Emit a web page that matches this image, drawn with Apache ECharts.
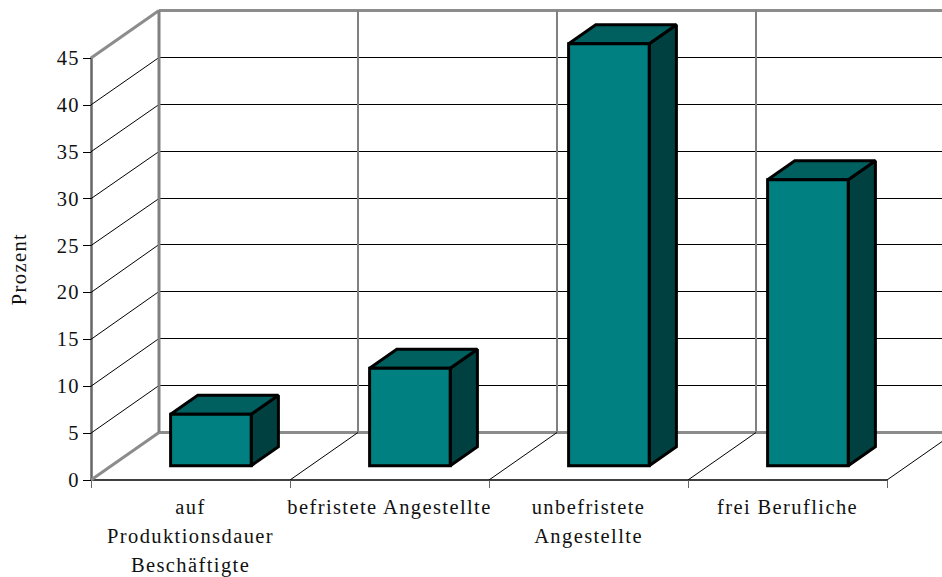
<!DOCTYPE html>
<html>
<head>
<meta charset="utf-8">
<style>
html,body{margin:0;padding:0;background:#fff}
#chart{width:942px;height:577px}
#chart text{letter-spacing:1.4px}
</style>
<script src="https://cdn.jsdelivr.net/npm/echarts@6/dist/echarts.min.js"></script>
</head>
<body>
<div id="chart"></div>
<script>
// Employment groups and their share in percent
const categories = ['auf\nProduktionsdauer\nBeschäftigte', 'befristete Angestellte', 'unbefristete\nAngestellte', 'frei Berufliche'];
const percentValues = [5.5, 10.4, 45, 30.5];
const wallTicks = [0, 5, 10, 15, 20, 25, 30, 35, 40, 45];
const floorEdges = [0, 1, 2, 3, 4];

// Oblique projection of the chart box
const DEPTH_X = 68, DEPTH_Y = -47.5;
const BAR_NEAR = 0.3, BAR_DEPTH = 0.4, BAR_WIDTH = 0.405;
const SERIF = '"Liberation Serif", "Times New Roman", serif';

const line = (pts, stroke, lineWidth) => ({
  type: 'polyline', shape: { points: pts },
  style: { stroke, lineWidth, fill: null }, silent: true
});

// Side wall and back wall, one rung per axis tick
function renderWall(params, api) {
  const v = api.value(0);
  const p = api.coord([0, v]);
  const band = api.size([1, 0])[0];
  const x0 = p[0] - band / 2, y = p[1];
  const bx = x0 + DEPTH_X, by = y + DEPTH_Y;
  const edge = v === 0 || v === 45;
  // thin rungs snap to the pixel grid so they stay crisp
  const backY = edge ? by : Math.floor(by) + 0.5;
  return {
    type: 'group',
    children: [
      line([[x0, y], [bx, backY]], edge ? '#8c8c8c' : '#000', edge ? 3 : 1),
      line([[bx, backY], [x0 + band * 5, backY]], edge ? '#8c8c8c' : '#000', edge ? 3 : 1)
    ]
  };
}

// Floor divisions and the vertical lines on the back wall
function renderFloor(params, api) {
  const i = api.value(0);
  const base = api.coord([0, 0]);
  const top = api.coord([0, 45]);
  const band = api.size([1, 0])[0];
  const x = base[0] - band / 2 + i * band;
  const children = [
    line([[x + DEPTH_X, base[1] + DEPTH_Y], [x + DEPTH_X, top[1] + DEPTH_Y]], '#808080', i === 0 ? 3 : 2)
  ];
  if (i > 0) {
    children.push(line([[x, base[1]], [x + DEPTH_X, base[1] + DEPTH_Y]], '#000', 1));
  }
  return { type: 'group', children };
}

// Box with front, top and side faces
function renderBox(params, api) {
  const i = api.value(0);
  const top = api.coord([i, api.value(1)]);
  const base = api.coord([i, 0]);
  const band = api.size([1, 0])[0];
  const w = band * BAR_WIDTH;
  const ox = DEPTH_X * BAR_NEAR, oy = DEPTH_Y * BAR_NEAR;
  const dx = DEPTH_X * BAR_DEPTH, dy = DEPTH_Y * BAR_DEPTH;
  const l = top[0] + ox - w / 2, r = l + w;
  const t = top[1] + oy, b = base[1] + oy;
  const face = (pts, fill) => ({
    type: 'polygon', shape: { points: pts },
    style: { fill, stroke: '#000', lineWidth: 3, lineJoin: 'miter', miterLimit: 2 }
  });
  return {
    type: 'group',
    children: [
      face([[r, t], [r + dx, t + dy], [r + dx, b + dy], [r, b]], '#004040'),
      face([[l, t], [l + dx, t + dy], [r + dx, t + dy], [r, t]], '#006060'),
      face([[l, t], [r, t], [r, b], [l, b]], '#008080')
    ]
  };
}

const chart = echarts.init(document.getElementById('chart'), null, { renderer: 'svg' });
chart.setOption({
  animation: false,
  backgroundColor: '#fff',
  textStyle: { fontFamily: SERIF },
  grid: { left: 91, top: 58, width: 796, height: 422, containLabel: false, outerBoundsMode: 'none' },
  xAxis: {
    type: 'category',
    data: categories,
    axisLine: { lineStyle: { color: '#000', width: 1.5 } },
    axisTick: { show: true, length: 8, lineStyle: { color: '#666', width: 1 } },
    axisLabel: {
      interval: 0, margin: 12, lineHeight: 29,
      fontFamily: SERIF, fontSize: 20.5, color: '#111'
    }
  },
  yAxis: {
    type: 'value',
    min: 0, max: 45, interval: 5,
    name: 'Prozent',
    nameLocation: 'middle',
    nameRotate: 90,
    nameGap: 62,
    nameTextStyle: { fontFamily: SERIF, fontSize: 20.5, color: '#111' },
    axisLine: { show: true, lineStyle: { color: '#666', width: 2.5 } },
    axisTick: { show: true, length: 8, lineStyle: { color: '#000', width: 1 } },
    axisLabel: { margin: 11, fontFamily: SERIF, fontSize: 20.5, color: '#111' },
    splitLine: { show: false }
  },
  series: [
    { type: 'custom', name: 'Wände', clip: false, z: 1, silent: true,
      coordinateSystem: 'cartesian2d', renderItem: renderWall,
      encode: { y: 0 }, data: wallTicks.map(v => [v]) },
    { type: 'custom', name: 'Boden', clip: false, z: 1, silent: true,
      coordinateSystem: 'cartesian2d', renderItem: renderFloor,
      data: floorEdges.map(i => [i]) },
    { type: 'custom', name: 'Prozent', clip: false, z: 3,
      coordinateSystem: 'cartesian2d', renderItem: renderBox,
      encode: { x: 0, y: 1 },
      data: percentValues.map((v, i) => [i, v]) }
  ]
});
</script>
</body>
</html>
